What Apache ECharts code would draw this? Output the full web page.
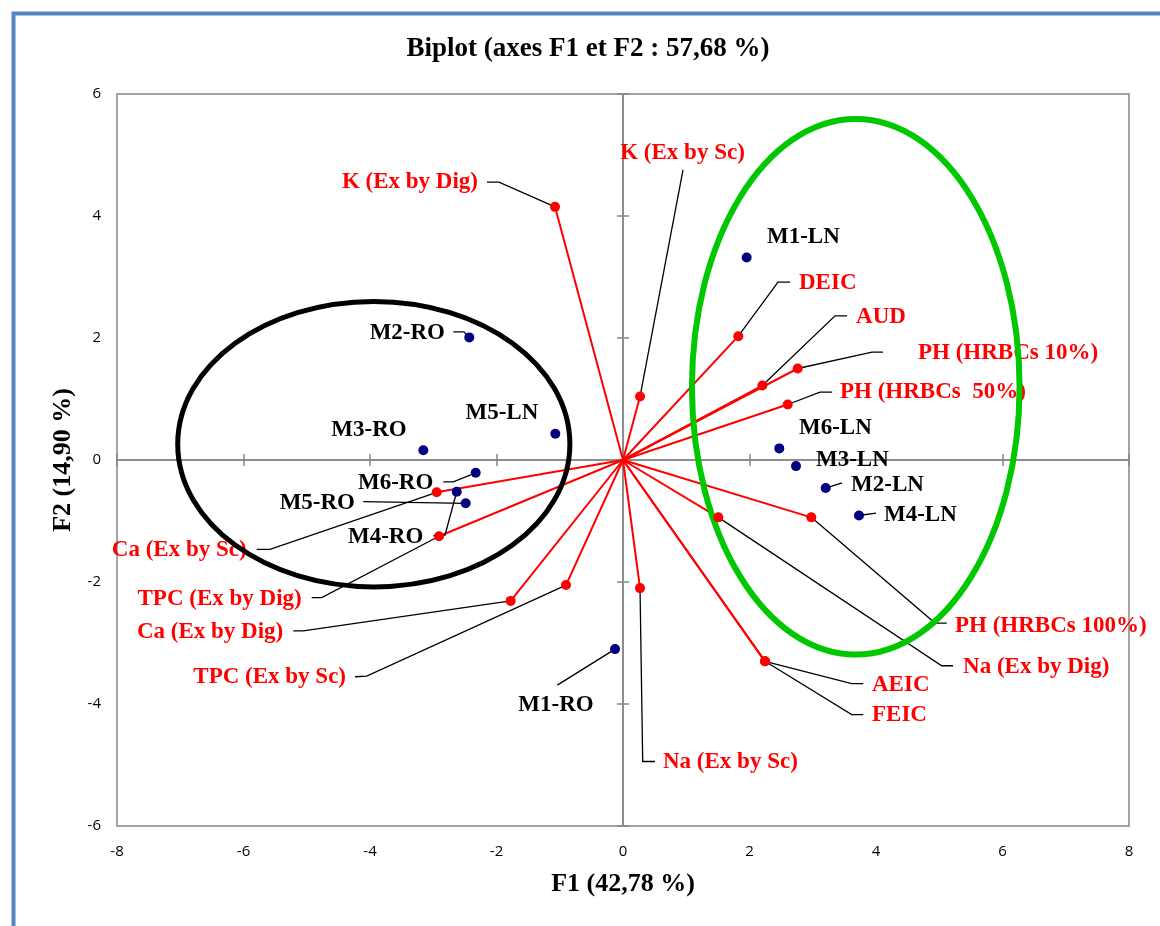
<!DOCTYPE html>
<html>
<head>
<meta charset="utf-8">
<script src="https://cdn.jsdelivr.net/npm/echarts@6/dist/echarts.min.js"></script>
<style>
  html, body { margin: 0; padding: 0; background: #fff; }
  #chart { width: 1160px; height: 926px; }
</style>
</head>
<body>
<div id="chart"></div>
<script>
// PCA biplot: variable loadings (red vectors) and observation scores (navy points)
const variableNames = ['K (Ex by Dig)', 'K (Ex by Sc)', 'DEIC', 'AUD', 'PH (HRBCs 10%)', 'PH (HRBCs  50%)',
  'PH (HRBCs 100%)', 'Na (Ex by Dig)', 'AEIC', 'FEIC', 'Na (Ex by Sc)', 'TPC (Ex by Sc)',
  'Ca (Ex by Dig)', 'TPC (Ex by Dig)', 'Ca (Ex by Sc)'];
const variableF1 = [-1.075, 0.269, 1.823, 2.203, 2.762, 2.604, 2.977, 1.507, 2.245, 2.245, 0.269, -0.901, -1.776, -2.909, -2.946];
const variableF2 = [4.15, 1.04, 2.03, 1.22, 1.50, 0.91, -0.94, -0.94, -3.30, -3.30, -2.10, -2.05, -2.31, -1.25, -0.53];

const observationNames = ['M1-LN', 'M2-RO', 'M3-RO', 'M5-LN', 'M6-RO', 'M4-RO', 'M5-RO', 'M6-LN', 'M3-LN', 'M2-LN', 'M4-LN', 'M1-RO'];
const observationF1 = [1.955, -2.430, -3.157, -1.070, -2.329, -2.629, -2.487, 2.471, 2.735, 3.205, 3.731, -0.126];
const observationF2 = [3.32, 2.01, 0.16, 0.43, -0.21, -0.52, -0.71, 0.19, -0.10, -0.46, -0.91, -3.10];

// group outlines: [centre F1, centre F2, radius F1, radius F2]
const roGroup = [-3.94, 0.26, 3.10, 2.34];
const lnGroup = [3.68, 1.20, 2.59, 4.39];

const axisTicks = [-8, -6, -4, -2, 0, 2, 4, 6, 8];

// label placement: text anchor offset (px) from the point, alignment, leader polyline offsets
const variableLabels = [
  { at: [-77, -24.7], align: 'right', leader: [[-56, -24.7], [-68, -24.7]] },
  { at: [42.5, -243.7], align: 'center', leader: [[43, -226.7]] },
  { at: [60.7, -53], align: 'left', leader: [[39.7, -54], [51.7, -54]] },
  { at: [93.7, -68.7], align: 'left', leader: [[72.7, -69.7], [84.7, -69.7]] },
  { at: [120.3, -15.3], align: 'left', leader: [[74.3, -16.3], [85.3, -16.3]] },
  { at: [52.3, -12.3], align: 'left', leader: [[32.3, -12.3], [44.3, -12.3]] },
  { at: [143.7, 108.7], align: 'left', leader: [[123.7, 105.7], [135.4, 105.7]] },
  { at: [244.7, 149.7], align: 'left', leader: [[223.4, 148.4], [234.7, 148.4]] },
  { at: [107, 24], align: 'left', leader: [[86.7, 22.3], [98.3, 22.3]] },
  { at: [107, 54], align: 'left', leader: [[86.7, 53.3], [98.3, 53.3]] },
  { at: [23, 174.4], align: 'left', leader: [[2.7, 173.4], [15, 173.4]] },
  { at: [-220, 91.7], align: 'right', leader: [[-199.3, 91], [-211, 91.7]] },
  { at: [-227.4, 31], align: 'right', leader: [[-207.4, 30], [-217.4, 30]] },
  { at: [-137.3, 63.3], align: 'right', leader: [[-117.3, 61.3], [-127.3, 61.3]] },
  { at: [-190, 57.7], align: 'right', leader: [[-166.7, 57], [-180, 57]] }
];
const observationLabels = [
  { at: [20.3, -20.7], align: 'left', leader: null },
  { at: [-24.3, -4], align: 'right', leader: [[-5.3, -5.6], [-16, -5.6]] },
  { at: [-16.6, -20], align: 'right', leader: null },
  { at: [-17, -20.7], align: 'right', leader: null },
  { at: [-42.4, 10], align: 'right', leader: [[-22.4, 9], [-32.4, 9]] },
  { at: [-33.4, 45], align: 'right', leader: [[-11.7, 43.3], [-23.4, 44]] },
  { at: [-110.7, 0], align: 'right', leader: [[-102.4, -1.6]] },
  { at: [19.7, -20.3], align: 'left', leader: null },
  { at: [20, -6], align: 'left', leader: null },
  { at: [25.3, -3.3], align: 'left', leader: [[16.3, -5.3]] },
  { at: [25, -0.3], align: 'left', leader: [[17, -2.3]] },
  { at: [-59, 55.7], align: 'center', leader: [[-57.7, 36]] }
];

const RED = '#ff0000';
const NAVY = '#000080';
const GRAY = '#868686';
const LABEL_FONT = 'bold 23px "Liberation Serif", "Times New Roman", serif';

const variableData = variableF1.map((v, i) => [v, variableF2[i], i]);
const observationData = observationF1.map((v, i) => [v, observationF2[i], i]);

function labelRenderer(names, layouts, color) {
  return function (params, api) {
    const i = api.value(2);
    const p = api.coord([api.value(0), api.value(1)]);
    const lay = layouts[i];
    const children = [];
    if (lay.leader) {
      const pts = [p].concat(lay.leader.map(o => [p[0] + o[0], p[1] + o[1]]));
      children.push({
        type: 'polyline',
        shape: { points: pts },
        style: { stroke: '#000', lineWidth: 1.3, fill: null }
      });
    }
    children.push({
      type: 'text',
      x: p[0] + lay.at[0],
      y: p[1] + lay.at[1],
      style: { text: names[i], fill: color, font: LABEL_FONT, align: lay.align, verticalAlign: 'middle' }
    });
    return { type: 'group', children };
  };
}

function zeroAxis(position, min, max) {
  return {
    type: 'value', min, max, interval: 2, position,
    axisLine: { show: true, onZero: true, lineStyle: { color: GRAY, width: 1.5 } },
    axisTick: { show: true, inside: false, length: 6, lineStyle: { color: GRAY, width: 1.5 } },
    axisLabel: { show: false }, splitLine: { show: false }
  };
}

const tickLabelStyle = { color: '#000', fontFamily: '"Open Sans", sans-serif', fontSize: 15 };
const axisNameStyle = { fontFamily: '"Liberation Serif", serif', fontWeight: 'bold', fontSize: 26, color: '#000' };

const chart = echarts.init(document.getElementById('chart'), null, { renderer: 'canvas' });

chart.setOption({
  animation: false,
  backgroundColor: '#fff',
  title: {
    text: 'Biplot (axes F1 et F2 : 57,68 %)',
    left: 583, top: 31, textAlign: 'center',
    textStyle: { fontFamily: '"Liberation Serif", serif', fontWeight: 'bold', fontSize: 27, color: '#000' }
  },
  graphic: [{
    type: 'rect', left: 11, top: 11, z: 100,
    shape: { width: 1200, height: 1000 },
    style: { fill: null, stroke: '#5585c5', lineWidth: 4 }
  }],
  grid: {
    left: 117, top: 94, right: 31, bottom: 100,
    show: true, borderColor: GRAY, borderWidth: 1.5, backgroundColor: '#fff'
  },
  xAxis: [
    {
      type: 'value', min: axisTicks[0], max: axisTicks[axisTicks.length - 1], interval: 2, position: 'bottom',
      axisLine: { show: false, onZero: false }, axisTick: { show: false }, splitLine: { show: false },
      axisLabel: Object.assign({ margin: 18 }, tickLabelStyle),
      name: 'F1 (42,78 %)', nameLocation: 'middle', nameGap: 45,
      nameTextStyle: axisNameStyle
    },
    zeroAxis('bottom', -8, 8),
    zeroAxis('top', -8, 8)
  ],
  yAxis: [
    {
      type: 'value', min: -6, max: 6, interval: 2, position: 'left',
      axisLine: { show: false, onZero: false }, axisTick: { show: false }, splitLine: { show: false },
      axisLabel: Object.assign({ margin: 16 }, tickLabelStyle),
      name: 'F2 (14,90 %)', nameLocation: 'middle', nameGap: 39,
      nameTextStyle: axisNameStyle
    },
    zeroAxis('left', -6, 6),
    zeroAxis('right', -6, 6)
  ],
  series: [
    {
      name: 'vectors', type: 'custom', clip: false, z: 2,
      data: variableData,
      renderItem(params, api) {
        const o = api.coord([0, 0]);
        const p = api.coord([api.value(0), api.value(1)]);
        return {
          type: 'line',
          shape: { x1: o[0], y1: o[1], x2: p[0], y2: p[1] },
          style: { stroke: RED, lineWidth: 2 }
        };
      }
    },
    {
      name: 'leaders', type: 'custom', clip: false, z: 3,
      data: variableData,
      renderItem: labelRenderer(variableNames, variableLabels, RED)
    },
    {
      name: 'obsLabels', type: 'custom', clip: false, z: 3,
      data: observationData,
      renderItem: labelRenderer(observationNames, observationLabels, '#000')
    },
    {
      name: 'groups', type: 'custom', clip: false, z: 4,
      data: [roGroup.concat([0]), lnGroup.concat([1])],
      renderItem(params, api) {
        const c = api.coord([api.value(0), api.value(1)]);
        const s = api.size([api.value(2), api.value(3)]);
        return {
          type: 'ellipse',
          shape: { cx: c[0], cy: c[1], rx: s[0], ry: s[1] },
          style: { fill: null, stroke: api.value(4) === 0 ? '#000' : '#00c800', lineWidth: api.value(4) === 0 ? 5 : 6 }
        };
      }
    },
    {
      name: 'variables', type: 'scatter', z: 5,
      data: variableData, symbolSize: 10,
      itemStyle: { color: RED, opacity: 1 }
    },
    {
      name: 'observations', type: 'scatter', z: 5,
      data: observationData, symbolSize: 10,
      itemStyle: { color: NAVY, opacity: 1 }
    }
  ]
});
</script>
</body>
</html>
